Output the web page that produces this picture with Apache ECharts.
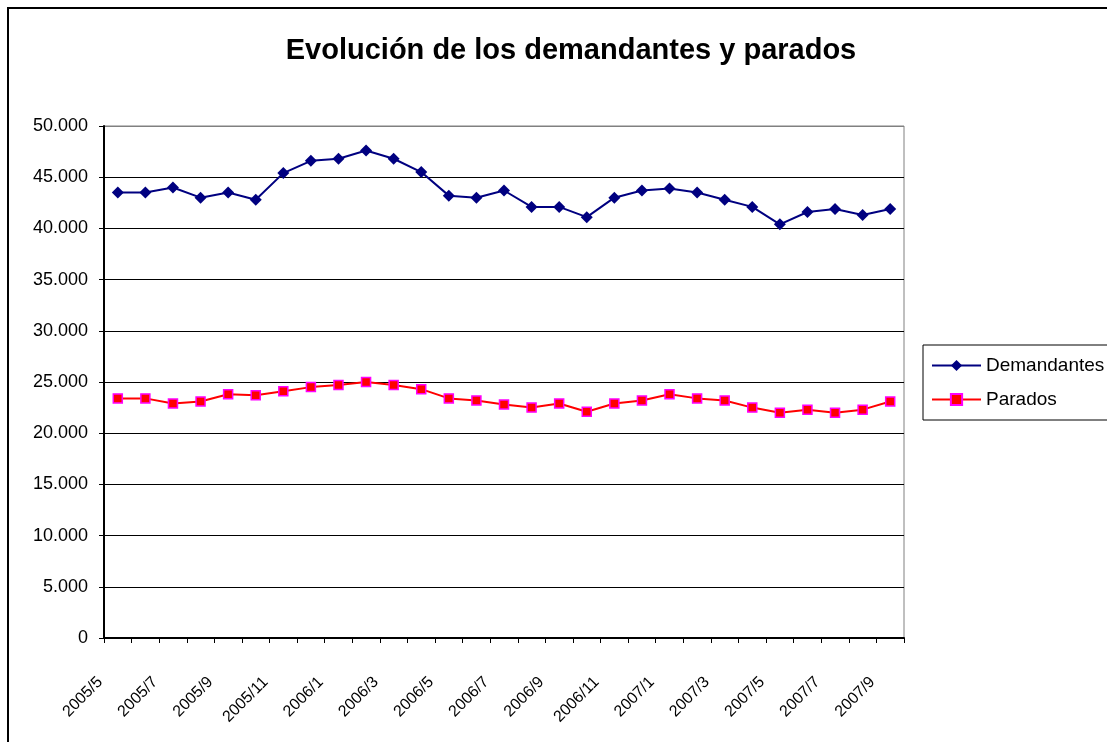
<!DOCTYPE html>
<html>
<head>
<meta charset="utf-8">
<script src="https://cdn.jsdelivr.net/npm/echarts@6/dist/echarts.min.js"></script>
<style>
  html, body { margin: 0; padding: 0; background: #fff; }
  #chart { width: 1107px; height: 742px; }
</style>
</head>
<body>
<div id="chart"></div>
<script>
const months = [
  '2005/5', '2005/6', '2005/7', '2005/8', '2005/9', '2005/10', '2005/11', '2005/12',
  '2006/1', '2006/2', '2006/3', '2006/4', '2006/5', '2006/6', '2006/7', '2006/8',
  '2006/9', '2006/10', '2006/11', '2006/12', '2007/1', '2007/2', '2007/3', '2007/4',
  '2007/5', '2007/6', '2007/7', '2007/8', '2007/9'
];
const demandantes = [
  43500, 43500, 44000, 43000, 43500, 42800, 45400, 46600,
  46800, 47600, 46800, 45500, 43200, 43000, 43700, 42100,
  42100, 41100, 43000, 43700, 43900, 43500, 42800, 42100,
  40400, 41600, 41900, 41300, 41900
];
const parados = [
  23400, 23400, 22900, 23100, 23800, 23700, 24100, 24500,
  24700, 25000, 24700, 24300, 23400, 23200, 22800, 22500,
  22900, 22100, 22900, 23200, 23800, 23400, 23200, 22500,
  22000, 22300, 22000, 22300, 23100
];

const font = '"Liberation Sans", Arial, sans-serif';
const fmt = v => String(v).replace(/\B(?=(\d{3})+(?!\d))/g, '.');
// gridlines black, except the top one which is the grey plot-area border
const gridColors = ['#000', '#000', '#000', '#000', '#000', '#000', '#000', '#000', '#000', '#000', '#808080'];

const chart = echarts.init(document.getElementById('chart'));
chart.setOption({
  animation: false,
  backgroundColor: '#fff',
  textStyle: { fontFamily: font },
  graphic: [{
    type: 'rect',
    shape: { x: 8, y: 8, width: 1200, height: 800 },
    style: { fill: 'none', stroke: '#000', lineWidth: 2 },
    silent: true
  }],
  title: {
    text: 'Evolución de los demandantes y parados',
    left: 566,
    textAlign: 'center',
    top: 31,
    textStyle: { fontFamily: font, fontSize: 29, fontWeight: 'bold', color: '#000' }
  },
  legend: {
    orient: 'vertical',
    left: 923,
    top: 345,
    padding: [11, 30, 11, 8],
    itemWidth: 49,
    itemHeight: 14,
    itemGap: 15,
    borderColor: '#000',
    borderWidth: 1,
    backgroundColor: '#fff',
    textStyle: { fontFamily: font, fontSize: 19, color: '#000' },
    data: ['Demandantes', 'Parados']
  },
  grid: {
    left: 104,
    top: 126,
    right: 203,
    bottom: 104,
    show: true,
    borderColor: '#808080',
    borderWidth: 1
  },
  xAxis: {
    type: 'category',
    data: months,
    boundaryGap: true,
    axisLine: { lineStyle: { color: '#000', width: 2 } },
    axisTick: { show: true, interval: 0, length: 5, lineStyle: { color: '#000' } },
    axisLabel: {
      interval: 1,
      rotate: 45,
      margin: 24,
      padding: [0, 25, 0, 0],
      fontFamily: font,
      fontSize: 16,
      color: '#000'
    },
    splitLine: { show: false }
  },
  yAxis: {
    type: 'value',
    min: 0,
    max: 50000,
    interval: 5000,
    axisLine: { show: true, lineStyle: { color: '#000', width: 2 } },
    axisTick: { show: true, length: 5, lineStyle: { color: '#000' } },
    axisLabel: {
      margin: 16,
      fontFamily: font,
      fontSize: 18,
      color: '#000',
      formatter: fmt
    },
    splitLine: { show: true, lineStyle: { color: gridColors, width: 1 } }
  },
  series: [
    {
      name: 'Demandantes',
      type: 'line',
      data: demandantes,
      symbol: 'diamond',
      symbolSize: 12,
      lineStyle: { color: '#000080', width: 2 },
      itemStyle: { color: '#000080' }
    },
    {
      name: 'Parados',
      type: 'line',
      data: parados,
      symbol: 'rect',
      symbolSize: 9,
      lineStyle: { color: '#FF0000', width: 2 },
      itemStyle: { color: '#FF0000', borderColor: '#FF00FF', borderWidth: 1.5 }
    }
  ]
});
</script>
</body>
</html>
